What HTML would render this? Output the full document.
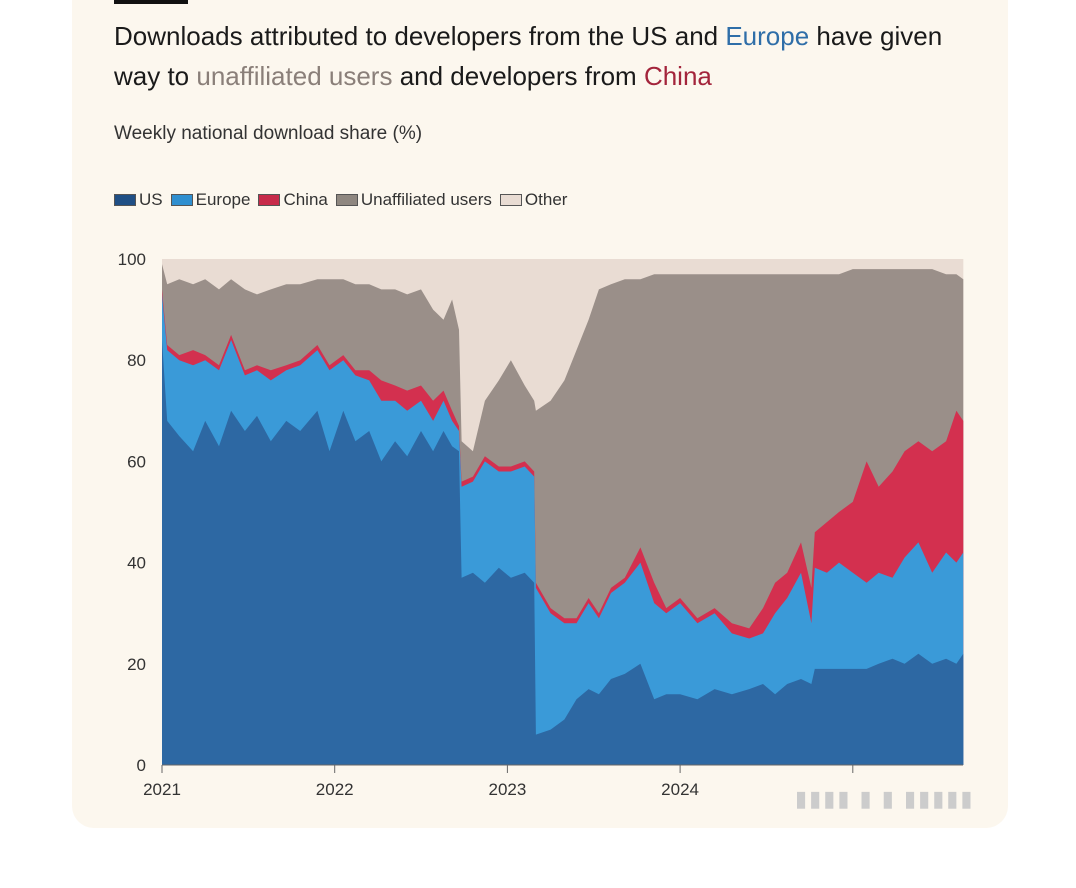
<!DOCTYPE html>
<html><head><meta charset="utf-8"><style>
body{margin:0;width:1076px;height:888px;background:#fff;font-family:"Liberation Sans",sans-serif;position:relative;overflow:hidden}
.card{position:absolute;left:72px;top:-20px;width:936px;height:848px;background:#fcf7ee;border-radius:22px}
.bar{position:absolute;left:114px;top:0;width:74px;height:4px;background:#111}
.title{position:absolute;left:114px;top:16px;font-size:26px;line-height:40px;color:#1a1a1a;width:880px}
.sub{position:absolute;left:114px;top:123px;font-size:19px;color:#333}
.legend{position:absolute;left:114px;top:190px;font-size:17px;color:#333;display:flex;gap:8px;align-items:center}
.legend span.sw{display:inline-block;width:22px;height:12px;margin-right:3px;vertical-align:-1px;border:1px solid #555;box-sizing:border-box}
svg{position:absolute;left:0;top:0}
</style></head><body>
<div class="card"></div>
<div class="bar"></div>
<div class="title">Downloads attributed to developers from the US and <span style="color:#2f6ea8">Europe</span> have given way to <span style="color:#8a7f79">unaffiliated users</span> and developers from <span style="color:#a3243b">China</span></div>
<div class="sub">Weekly national download share (%)</div>
<div class="legend">
<div><span class="sw" style="background:#1f4f85"></span>US</div>
<div><span class="sw" style="background:#2f8fd0"></span>Europe</div>
<div><span class="sw" style="background:#c72b4a"></span>China</div>
<div><span class="sw" style="background:#8f8780"></span>Unaffiliated users</div>
<div><span class="sw" style="background:#e9dcd3"></span>Other</div>
</div>
<svg id="chart" width="1076" height="888"></svg>
<div style="position:absolute;left:795px;top:786px;font-size:22px;color:#ccc;letter-spacing:2px">▮▮▮▮ ▮ ▮ ▮▮▮▮▮</div>
<script>
const dates=[2021.00,2021.03,2021.10,2021.18,2021.25,2021.33,2021.40,2021.48,2021.55,2021.63,2021.72,2021.80,2021.90,2021.97,2022.05,2022.12,2022.20,2022.27,2022.35,2022.42,2022.50,2022.57,2022.63,2022.68,2022.72,2022.735,2022.80,2022.87,2022.95,2023.02,2023.10,2023.155,2023.165,2023.25,2023.33,2023.40,2023.47,2023.53,2023.60,2023.68,2023.77,2023.85,2023.92,2024.00,2024.10,2024.20,2024.30,2024.40,2024.48,2024.55,2024.62,2024.70,2024.76,2024.78,2024.85,2024.92,2025.00,2025.08,2025.15,2025.23,2025.30,2025.38,2025.46,2025.54,2025.60,2025.64];
const usTop=[84,68,65,62,68,63,70,66,69,64,68,66,70,62,70,64,66,60,64,61,66,62,66,63,62,37,38,36,39,37,38,36,6,7,9,13,15,14,17,18,20,13,14,14,13,15,14,15,16,14,16,17,16,19,19,19,19,19,20,21,20,22,20,21,20,22];
const europeTop=[93,82,80,79,80,78,84,77,78,76,78,79,82,78,80,77,76,72,72,70,72,68,72,68,66,55,56,60,58,58,59,57,35,30,28,28,32,29,34,36,40,32,30,32,28,30,26,25,26,30,33,38,28,39,38,40,38,36,38,37,41,44,38,42,40,42];
const chinaTop=[94,83,81,82,81,79,85,78,79,78,79,80,83,79,81,78,78,76,75,74,75,72,74,70,67,56,57,61,59,59,60,58,36,31,29,29,33,30,35,37,43,36,31,33,29,31,28,27,31,36,38,44,35,46,48,50,52,60,55,58,62,64,62,64,70,68];
const unaffTop=[99,95,96,95,96,94,96,94,93,94,95,95,96,96,96,95,95,94,94,93,94,90,88,92,86,64,62,72,76,80,75,72,70,72,76,82,88,94,95,96,96,97,97,97,97,97,97,97,97,97,97,97,97,97,97,97,98,98,98,98,98,98,98,97,97,96];
const yTicks=[0,20,40,60,80,100];
const xTicks=[2021,2022,2023,2024,2025];
const xTickLabels=["2021","2022","2023","2024",""];
const NS="http://www.w3.org/2000/svg";
const svg=document.getElementById('chart');
const x=d=>162+(d-2021)*172.7;
const y=v=>765-v*5.06;
function mk(t,a){const e=document.createElementNS(NS,t);for(const k in a)e.setAttribute(k,a[k]);svg.appendChild(e);return e;}
const bg=mk('rect',{x:x(2021),y:y(100),width:x(dates[dates.length-1])-x(2021),height:y(0)-y(100),fill:'#e9dcd3'});


function area(top,name,color){
  let d='M'+x(dates[0])+','+y(0);
  dates.forEach((t,i)=>{d+=' L'+x(t).toFixed(1)+','+y(top[i]).toFixed(1);});
  d+=' L'+x(dates[dates.length-1])+','+y(0)+' Z';
  const p=mk('path',{d:d,fill:color});
  
  
}
area(unaffTop,'unaffiliated-area','#9a8f89');
area(chinaTop,'china-area','#d3304f');
area(europeTop,'europe-area','#3a9ad8');
area(usTop,'us-area','#2d68a3');
yTicks.forEach(v=>{
  const t=mk('text',{x:146,y:y(v)+6,'text-anchor':'end','font-size':17,fill:'#333','font-family':'Liberation Sans, sans-serif'});
  t.textContent=v;
  
  
});
const ax=mk('line',{x1:162,x2:963,y1:y(0),y2:y(0),stroke:'#666','stroke-width':1});


xTicks.forEach((v,i)=>{
  const l=mk('line',{x1:x(v),x2:x(v),y1:y(0),y2:y(0)+8,stroke:'#666'});
  
  
  const t=mk('text',{x:x(v),y:795,'text-anchor':'middle','font-size':17,fill:'#333','font-family':'Liberation Sans, sans-serif'});
  t.textContent=xTickLabels[i];
  
  
});
</script>
</body></html>
